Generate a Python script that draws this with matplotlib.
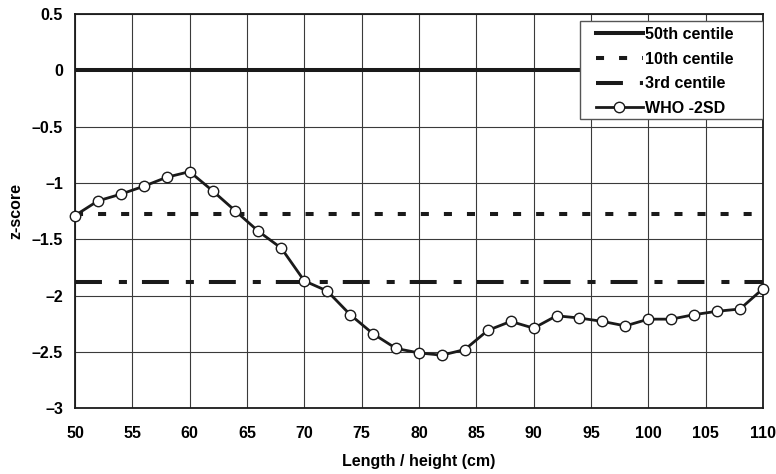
import matplotlib
matplotlib.use('Agg')
import matplotlib.pyplot as plt
from matplotlib.patches import Rectangle

plt.rcParams['font.family'] = ['Liberation Sans', 'DejaVu Sans']
plt.rcParams['font.weight'] = 'bold'
plt.rcParams['lines.scale_dashes'] = False

# length / height (cm) and WHO -2SD curve expressed as z-score
length_cm = [50, 52, 54, 56, 58, 60, 62, 64, 66, 68, 70, 72, 74, 76, 78, 80,
             82, 84, 86, 88, 90, 92, 94, 96, 98, 100, 102, 104, 106, 108, 110]
who_minus2sd = [-1.29, -1.16, -1.10, -1.03, -0.95, -0.90, -1.07, -1.25, -1.43,
                -1.58, -1.87, -1.96, -2.17, -2.34, -2.47, -2.51, -2.53, -2.48,
                -2.31, -2.23, -2.29, -2.18, -2.20, -2.23, -2.27, -2.21, -2.21,
                -2.17, -2.14, -2.12, -1.94]

centile_x = [50, 110]
z50 = [0, 0]
z10 = [-1.28, -1.28]
z3 = [-1.88, -1.88]

xticks = [50, 55, 60, 65, 70, 75, 80, 85, 90, 95, 100, 105, 110]
yticks = [0.5, 0, -0.5, -1, -1.5, -2, -2.5, -3]
ytick_labels = ['0.5', '0', '\u20130.5', '\u20131', '\u20131.5', '\u20132', '\u20132.5', '\u20133']

fig = plt.figure(figsize=(7.76, 4.74), dpi=100)
ax = fig.add_axes([0.0966, 0.139, 0.8866, 0.8315])

ax.plot(centile_x, z50, color='#1a1a1a', lw=2.9, label='50th centile')
ax.plot(centile_x, z10, color='#1a1a1a', lw=2.9, dashes=(5.8, 10.8), label='10th centile')
ax.plot(centile_x, z3, color='#1a1a1a', lw=2.9, dashes=(19.4, 12.2, 5.8, 10.8), label='3rd centile')
ax.plot(length_cm, who_minus2sd, color='#1a1a1a', lw=2.0, marker='o', ms=7.5,
        mfc='white', mec='#1a1a1a', mew=1.0, label='WHO -2SD', clip_on=False, zorder=5)

ax.set_xlim(50, 110)
ax.set_ylim(-3, 0.5)
ax.set_xticks(xticks)
ax.set_yticks(yticks)
ax.set_yticklabels(ytick_labels)
ax.tick_params(length=0, labelsize=11.5)
ax.tick_params(axis='x', pad=13)
ax.tick_params(axis='y', pad=8.5)
for lab in ax.get_xticklabels() + ax.get_yticklabels():
    lab.set_fontweight('bold')
ax.grid(True, color='#3a3a3a', lw=0.8)
ax.set_axisbelow(True)
for s in ax.spines.values():
    s.set_color('#1a1a1a')
    s.set_linewidth(1.3)

ax.set_xlabel('Length / height (cm)', fontsize=11.5, fontweight='bold', labelpad=9)
ax.set_ylabel('z-score', fontsize=11.5, fontweight='bold', labelpad=6)

# legend box is wider than its contents, so draw the frame separately
box = Rectangle((0.734, 0.7335), 0.266, 0.2487, transform=ax.transAxes,
                facecolor='white', edgecolor='#555555', lw=1.0, zorder=6)
ax.add_patch(box)
leg = ax.legend(loc='upper left', bbox_to_anchor=(0.757, 0.967), borderaxespad=0,
                borderpad=0, fontsize=11.5, handlelength=2.95, handletextpad=0.15,
                frameon=False, labelspacing=0.6)
leg.set_zorder(7)
for t in leg.get_texts():
    t.set_fontweight('bold')

fig.savefig('out.png', dpi=100)
